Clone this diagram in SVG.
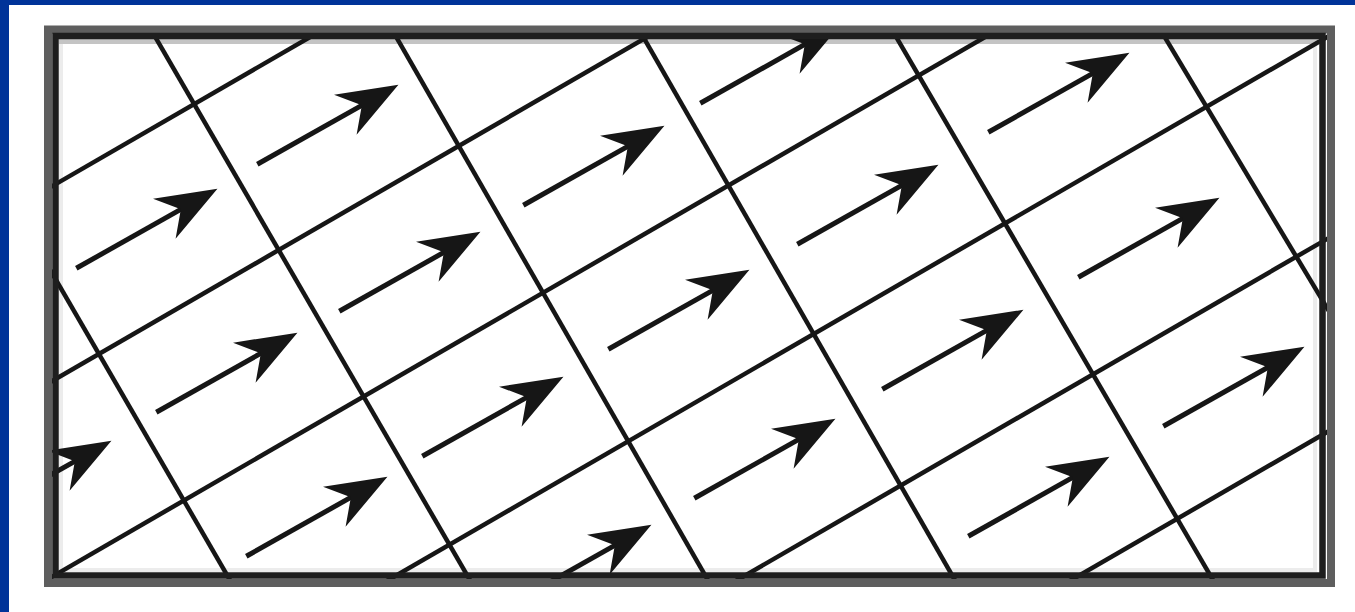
<svg xmlns="http://www.w3.org/2000/svg" xmlns:xlink="http://www.w3.org/1999/xlink" width="1355" height="612" viewBox="0 0 1355 612">
<defs>
<style>
.gl{stroke:#161616;stroke-width:4.5;fill:none;stroke-linecap:butt}
.sh{stroke:#161616;stroke-width:5}
.hd{fill:#161616}
</style>
<clipPath id="inner"><rect x="52" y="33" width="1275" height="546"/></clipPath>
<g id="arr"><line class="sh" x1="-80" y1="0" x2="44" y2="0"/><path class="hd" d="M82,0 L21,-23 L40,0 L21,23 Z"/></g>
</defs>
<rect x="0" y="0" width="1355" height="612" fill="#ffffff"/>
<rect x="0" y="0" width="1355" height="5" fill="#003399"/>
<rect x="0" y="0" width="9" height="612" fill="#003399"/>
<g id="frame-inner">
<rect x="61" y="41" width="1254" height="529" fill="none" stroke="#ececec" stroke-width="4"/>
<rect x="59" y="39" width="1259" height="5" fill="#c4c4c4"/>
</g>
<g id="grid" clip-path="url(#inner)">
<line class="gl" x1="-94.6" y1="20" x2="241.5" y2="600"/>
<line class="gl" x1="145.4" y1="20" x2="481.5" y2="600"/>
<line class="gl" x1="386.5" y1="20" x2="719.3" y2="600"/>
<line class="gl" x1="633.5" y1="20" x2="966.3" y2="600"/>
<line class="gl" x1="886.3" y1="20" x2="1224.6" y2="600"/>
<line class="gl" x1="1154.5" y1="20" x2="1502" y2="600"/>
<line class="gl" x1="339.6" y1="20" x2="-663.8" y2="600"/>
<line class="gl" x1="676.6" y1="20" x2="-326.8" y2="600"/>
<line class="gl" x1="1014.6" y1="20" x2="11.8" y2="600"/>
<line class="gl" x1="1356.6" y1="20" x2="353.8" y2="600"/>
<line class="gl" x1="1705.6" y1="20" x2="702.8" y2="600"/>
<line class="gl" x1="2039.6" y1="20" x2="1036.8" y2="600"/>
</g>
<g id="arrows" clip-path="url(#inner)">
<g id="arrow-1"><use xlink:href="#arr" transform="translate(327,125) rotate(-29.4)"/></g>
<g id="arrow-2"><use xlink:href="#arr" transform="translate(146,229) rotate(-29.4)"/></g>
<g id="arrow-3"><use xlink:href="#arr" transform="translate(226,373) rotate(-29.4)"/></g>
<g id="arrow-4"><use xlink:href="#arr" transform="translate(40,481) rotate(-29.4)"/></g>
<g id="arrow-5"><use xlink:href="#arr" transform="translate(409,272) rotate(-29.4)"/></g>
<g id="arrow-6"><use xlink:href="#arr" transform="translate(316,517) rotate(-29.4)"/></g>
<g id="arrow-7"><use xlink:href="#arr" transform="translate(492,417) rotate(-29.4)"/></g>
<g id="arrow-8"><use xlink:href="#arr" transform="translate(593,166) rotate(-29.4)"/></g>
<g id="arrow-9"><use xlink:href="#arr" transform="translate(678,310) rotate(-29.4)"/></g>
<g id="arrow-10"><use xlink:href="#arr" transform="translate(580,565) rotate(-29.4)"/></g>
<g id="arrow-11"><use xlink:href="#arr" transform="translate(764,459) rotate(-29.4)"/></g>
<g id="arrow-12"><use xlink:href="#arr" transform="translate(770,64) rotate(-29.4)"/></g>
<g id="arrow-13"><use xlink:href="#arr" transform="translate(867,205) rotate(-29.4)"/></g>
<g id="arrow-14"><use xlink:href="#arr" transform="translate(952,350) rotate(-29.4)"/></g>
<g id="arrow-15"><use xlink:href="#arr" transform="translate(1038,497) rotate(-29.4)"/></g>
<g id="arrow-16"><use xlink:href="#arr" transform="translate(1058,93) rotate(-29.4)"/></g>
<g id="arrow-17"><use xlink:href="#arr" transform="translate(1148,238) rotate(-29.4)"/></g>
<g id="arrow-18"><use xlink:href="#arr" transform="translate(1233,387) rotate(-29.4)"/></g>
</g>
<g id="frame">
<rect x="48" y="29.5" width="1283" height="553.5" fill="none" stroke="#5e5e5e" stroke-width="8"/>
<rect x="55.5" y="36" width="1267" height="539.5" fill="none" stroke="#1e1e1e" stroke-width="6.5"/>
</g>
</svg>
